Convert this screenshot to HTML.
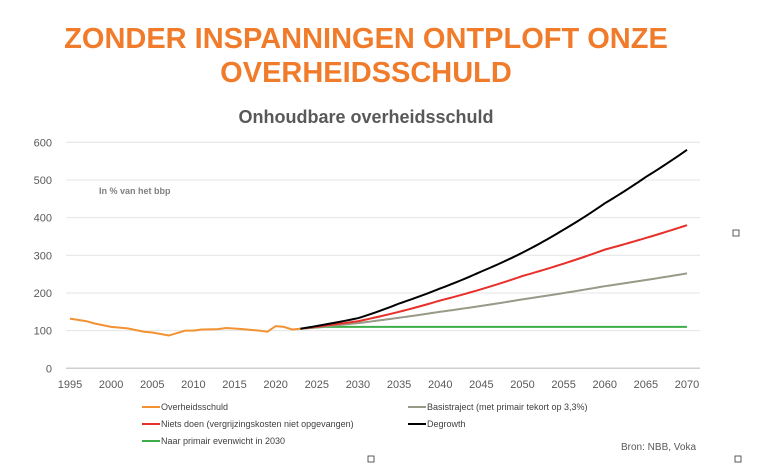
<!DOCTYPE html>
<html><head><meta charset="utf-8"><style>
body{margin:0;background:#fff;width:768px;height:463px;overflow:hidden;font-family:"Liberation Sans",sans-serif}
</style></head><body>
<svg id="s" width="768" height="463" xmlns="http://www.w3.org/2000/svg" font-family="Liberation Sans, sans-serif">
<text x="366" y="48" text-anchor="middle" font-size="29" font-weight="bold" fill="#f07b2b">ZONDER INSPANNINGEN ONTPLOFT ONZE</text>
<text x="366" y="82" text-anchor="middle" font-size="29" font-weight="bold" fill="#f07b2b">OVERHEIDSSCHULD</text>
<text x="366" y="123" text-anchor="middle" font-size="18" font-weight="bold" fill="#595959">Onhoudbare overheidsschuld</text>
<text x="99" y="194" font-size="9" font-weight="bold" fill="#808080">In % van het bbp</text>
<g id="grid"></g>
<g id="lines"></g>
<g font-size="9" fill="#404040">
<line x1="142" y1="407" x2="160" y2="407" stroke="#f39232" stroke-width="2"/><text x="161" y="410">Overheidsschuld</text>
<line x1="142" y1="424" x2="160" y2="424" stroke="#e8302a" stroke-width="2"/><text x="161" y="427">Niets doen (vergrijzingskosten niet opgevangen)</text>
<line x1="142" y1="441" x2="160" y2="441" stroke="#3fae49" stroke-width="2"/><text x="161" y="444">Naar primair evenwicht in 2030</text>
<line x1="408" y1="407" x2="426" y2="407" stroke="#999988" stroke-width="2"/><text x="427" y="410">Basistraject (met primair tekort op 3,3%)</text>
<line x1="408" y1="424" x2="426" y2="424" stroke="#000" stroke-width="2"/><text x="427" y="427">Degrowth</text>
<text x="621" y="450" font-size="10" fill="#595959">Bron: NBB, Voka</text>
</g>
<rect x="733" y="230" width="6" height="6" fill="none" stroke="#333" stroke-width="0.8"/>
<rect x="368" y="456" width="6" height="6" fill="none" stroke="#333" stroke-width="0.8"/>
<rect x="735" y="456" width="6" height="6" fill="none" stroke="#333" stroke-width="0.8"/>
</svg>
<script>
const X=y=>70+(y-1995)*8.227, Y=v=>368.3-v*0.3767;
let g='';
for(let v=0;v<=600;v+=100){const y=Y(v);g+=`<line x1="66" x2="700" y1="${y}" y2="${y}" stroke="${v?'#e4e4e4':'#cfcfcf'}" stroke-width="${v?1:1.5}"/><text x="52" y="${y+4}" text-anchor="end" font-size="11" fill="#595959">${v}</text>`;}
for(let yr=1995;yr<=2070;yr+=5)g+=`<text x="${X(yr)}" y="388" text-anchor="middle" font-size="11" fill="#595959">${yr}</text>`;
document.getElementById('grid').innerHTML=g;
function interp(k,yr){for(let i=0;i<k.length-1;i++){if(yr>=k[i][0]&&yr<=k[i+1][0]){const t=(yr-k[i][0])/(k[i+1][0]-k[i][0]);const a=k[i][1],b=k[i+1][1];return a*Math.pow(b/a,t);}}return k[k.length-1][1];}
function curve(k){let p=[];for(let yr=k[0][0];yr<=2070;yr+=0.5)p.push(X(yr)+','+Y(interp(k,yr)));return p.join(' ');}
const orange=[[1995,132],[1997,125],[1998,119],[2000,110],[2002,106],[2004,97],[2005,95],[2007,87],[2009,100],[2010,100],[2011,103],[2013,104],[2014,107],[2016,104],[2018,100],[2019,97],[2020,112],[2021,110],[2022,103],[2023,105]];
let L='';
L+=`<polyline fill="none" stroke="#3fae49" stroke-width="2" points="${X(2023)},${Y(105)} ${X(2026)},${Y(110)} ${X(2070)},${Y(110)}"/>`;
L+=`<polyline fill="none" stroke="#999988" stroke-width="2" points="${curve([[2023,105],[2030,120],[2040,150],[2050,183],[2060,218],[2070,252]])}"/>`;
L+=`<polyline fill="none" stroke="#e8302a" stroke-width="2" points="${curve([[2023,105],[2030,125],[2040,180],[2050,245],[2060,315],[2070,380]])}"/>`;
L+=`<polyline fill="none" stroke="#000" stroke-width="2" points="${curve([[2023,105],[2030,133],[2035,172],[2040,212],[2045,257],[2050,307],[2055,368],[2060,438],[2065,508],[2070,580]])}"/>`;
L+=`<polyline fill="none" stroke="#f39232" stroke-width="2" points="${orange.map(d=>X(d[0])+','+Y(d[1])).join(' ')}"/>`;
document.getElementById('lines').innerHTML=L;
</script>
</body></html>
